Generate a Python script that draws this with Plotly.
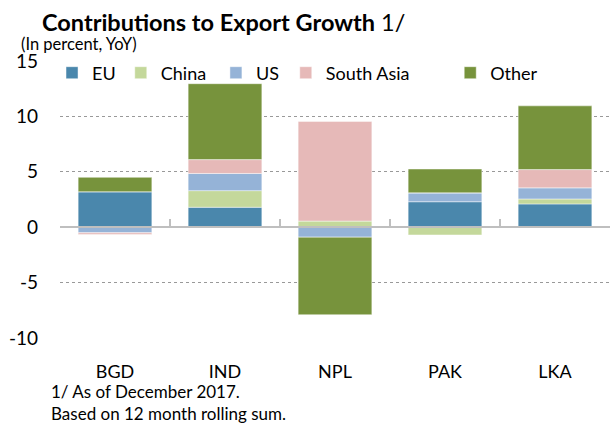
import plotly.graph_objects as go

# contributions to export growth, percent YoY
countries = ['BGD', 'IND', 'NPL', 'PAK', 'LKA']
eu = [3.2, 1.8, 0.0, 2.3, 2.1]
china = [0.0, 1.5, 0.55, -0.7, 0.45]
us = [-0.5, 1.55, -0.9, 0.8, 1.0]
south_asia = [-0.15, 1.25, 9.0, 0.0, 1.65]
other = [1.3, 6.85, -7.0, 2.15, 5.75]

y_ticks = [-10, -5, 0, 5, 10, 15]
y_tick_text = ['-10', '-5', '0', '5', '10', '15']

series = [
    ('EU', eu, '#4a87ac'),
    ('China', china, '#c4d89b'),
    ('US', us, '#95b3d7'),
    ('South Asia', south_asia, '#e6b9b8'),
    ('Other', other, '#77933c'),
]
legend_x = [-0.0145, 0.1105, 0.2835, 0.4105, 0.7095]

FONT = 'Lato'
W, H = 610, 428
L, R, T, B = 60, 0, 61, 90


def px_x(p):
    return (p - L) / (W - L - R)


def px_y(p):
    return (H - B - p) / (H - T - B)


fig = go.Figure()
for i, (name, vals, col) in enumerate(series):
    leg = 'legend' if i == 0 else 'legend%d' % (i + 1)
    fig.add_trace(go.Bar(x=countries, y=vals, name=name, width=0.67,
                         marker=dict(color=col, line=dict(color='rgba(255,255,255,0.45)', width=1)),
                         legend=leg))

# invisible trace to carry the zero-line axis with boundary ticks
fig.add_trace(go.Scatter(x=countries, y=[0] * 5, xaxis='x2', mode='markers',
                         marker=dict(opacity=0), showlegend=False, hoverinfo='skip'))

lay = dict(
    width=W, height=H, margin=dict(l=L, r=R, t=T, b=B, autoexpand=False),
    barmode='relative', bargap=0.33,
    plot_bgcolor='white', paper_bgcolor='white',
    font=dict(family=FONT, size=18, color='black'),
    xaxis=dict(showline=False, showgrid=False, ticks='', ticklabelstandoff=21,
               tickfont=dict(size=18)),
    xaxis2=dict(overlaying='x', matches='x', anchor='free', position=0.4,
                showline=True, linecolor='#bfbfbf', linewidth=2,
                ticks='inside', tickson='boundaries', ticklen=7, tickwidth=2,
                tickcolor='#bfbfbf', showticklabels=False, showgrid=False),
    yaxis=dict(range=[-10, 15], tickvals=y_ticks, ticktext=y_tick_text,
               showgrid=True, gridcolor='#999999',
               griddash='dot', gridwidth=1.2, zeroline=False, ticks='',
               ticklabelstandoff=21, tickfont=dict(size=19)),
    showlegend=True,
)
for i, (name, vals, col) in enumerate(series):
    key = 'legend' if i == 0 else 'legend%d' % (i + 1)
    lay[key] = dict(x=legend_x[i], y=px_y(73), xanchor='left', yanchor='middle',
                    orientation='h', bgcolor='rgba(0,0,0,0)',
                    font=dict(size=18), itemwidth=30)
fig.update_layout(**lay)

fig.add_annotation(text='<b>Contributions to Export Growth</b> 1/', xref='paper', yref='paper',
                   x=px_x(40), y=px_y(22), xanchor='left', yanchor='middle',
                   showarrow=False, font=dict(size=23.5))
fig.add_annotation(text='(In percent, YoY)', xref='paper', yref='paper',
                   x=px_x(19), y=px_y(43.5), xanchor='left', yanchor='middle',
                   showarrow=False, font=dict(size=16.5))
fig.add_annotation(text='1/ As of December 2017.', xref='paper', yref='paper',
                   x=px_x(49), y=px_y(391), xanchor='left', yanchor='middle',
                   showarrow=False, font=dict(size=17))
fig.add_annotation(text='Based on 12 month rolling sum.', xref='paper', yref='paper',
                   x=px_x(49), y=px_y(413), xanchor='left', yanchor='middle',
                   showarrow=False, font=dict(size=17))

# drop the default page margin so the figure sits at the window's corner
fig.write_html('out.html', config={'displayModeBar': False},
               post_script="document.body.style.margin='0';")
